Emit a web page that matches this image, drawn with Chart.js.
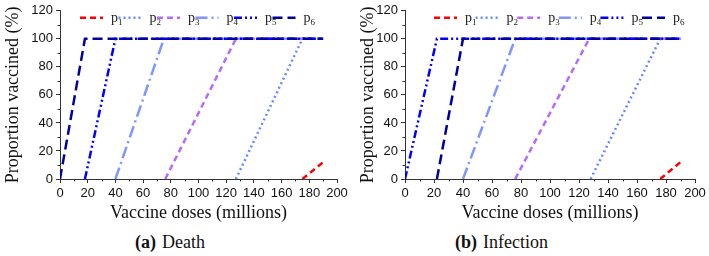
<!DOCTYPE html>
<html>
<head>
<meta charset="utf-8">
<script src="https://cdn.jsdelivr.net/npm/chart.js@4.4.1/dist/chart.umd.min.js"></script>
<style>
  html, body { margin: 0; padding: 0; background: #fff; }
  body { width: 709px; height: 256px; position: relative; overflow: hidden; }
  .panel { position: absolute; top: 0; height: 224px; }
  #panelA { left: 0; width: 355px; }
  #panelB { left: 355px; width: 354px; }
  .caption { position: absolute; top: 232px; font-family: "Liberation Serif", "Times New Roman", serif; font-size: 18px; color: #111; white-space: nowrap; }
  .caption b { margin-right: 6px; }
  #capA { left: 135px; }
  #capB { left: 455px; }
</style>
</head>
<body>
<div class="panel" id="panelA"><canvas id="chartA"></canvas></div>
<div class="panel" id="panelB"><canvas id="chartB"></canvas></div>
<div class="caption" id="capA"><b>(a)</b>Death</div>
<div class="caption" id="capB"><b>(b)</b>Infection</div>
<script>
// series names (drawn as p with a subscript digit)
const seriesLabels = ['p1', 'p2', 'p3', 'p4', 'p5', 'p6'];

// (a) Death: vertices of each curve, doses (millions) and proportion vaccined (%)
const deathDoses = [[175, 190], [127, 175, 190], [76, 127, 190], [40, 75, 190], [18, 40, 190], [0, 18, 190]];
const deathProps = [[0, 12], [0, 100, 100], [0, 100, 100], [0, 100, 100], [0, 100, 100], [0, 100, 100]];

// (b) Infection
const infectionDoses = [[176, 190], [128, 176, 190], [76, 127, 190], [40, 76, 190], [0, 22, 190], [22, 40, 190]];
const infectionProps = [[0, 12], [0, 100, 100], [0, 100, 100], [0, 100, 100], [0, 100, 100], [0, 100, 100]];

// styles
const seriesColors = ['#ff0000', '#6a88ff', '#b36bff', '#7f96ff', '#0000ff', '#0000a0'];
const seriesDash = [[6, 4], [2, 3], [6, 4], [12, 4, 2, 4], [8, 3, 2, 3, 2, 3], [10, 5]];
const seriesOrder = [5, 4, 3, 2, 1, 0];

const axisColor = '#333';
const serif = '"Liberation Serif", "Times New Roman", serif';

// small minor ticks halfway between the labelled ones
const minorTicks = {
    id: 'minorTicks',
    afterDraw(chart) {
        const ctx = chart.ctx;
        const x = chart.scales.x;
        const y = chart.scales.y;
        ctx.save();
        ctx.strokeStyle = axisColor;
        ctx.lineWidth = 1;
        ctx.beginPath();
        for (let v = 10; v < 200; v += 20) {
            const px = Math.round(x.getPixelForValue(v)) + 0.5;
            ctx.moveTo(px, x.top);
            ctx.lineTo(px, x.top + 2.5);
        }
        for (let v = 10; v < 120; v += 20) {
            const py = Math.round(y.getPixelForValue(v)) + 0.5;
            ctx.moveTo(y.right, py);
            ctx.lineTo(y.right - 2.5, py);
        }
        ctx.stroke();
        ctx.restore();
    }
};

// one-row legend inside the plot, dashed line samples + p with subscript
const lineLegend = {
    id: 'lineLegend',
    afterDatasetsDraw(chart, args, opts) {
        const ctx = chart.ctx;
        const area = chart.chartArea;
        const y = area.top + 7;
        ctx.save();
        chart.data.datasets.forEach((ds, i) => {
            const textX = area.left + opts.start + i * opts.step;
            ctx.strokeStyle = ds.borderColor;
            ctx.lineWidth = ds.borderWidth;
            ctx.setLineDash(ds.borderDash || []);
            ctx.beginPath();
            ctx.moveTo(textX - 31, y);
            ctx.lineTo(textX - 8, y);
            ctx.stroke();
            ctx.setLineDash([]);
            ctx.fillStyle = '#222';
            ctx.textBaseline = 'alphabetic';
            ctx.textAlign = 'left';
            ctx.font = '14px ' + serif;
            ctx.fillText(ds.label.charAt(0), textX, y + 4);
            const w = ctx.measureText(ds.label.charAt(0)).width;
            ctx.font = '9px ' + serif;
            ctx.fillText(ds.label.slice(1), textX + w, y + 7);
        });
        ctx.restore();
    }
};

function buildDatasets(doses, props) {
    return seriesLabels.map((label, i) => ({
        label: label,
        data: doses[i].map((d, j) => ({ x: d, y: props[i][j] })),
        borderColor: seriesColors[i],
        backgroundColor: seriesColors[i],
        borderDash: seriesDash[i],
        borderWidth: 2.5,
        pointRadius: 0,
        tension: 0,
        fill: false,
        order: seriesOrder[i]
    }));
}

function makeChart(id, doses, props, yAxisWidth, rightPad, legendStart, legendStep) {
    const ctx = document.getElementById(id).getContext('2d');
    return new Chart(ctx, {
        type: 'line',
        data: { datasets: buildDatasets(doses, props) },
        options: {
            responsive: true,
            maintainAspectRatio: false,
            animation: false,
            layout: { padding: { top: 8, right: rightPad, left: 0, bottom: 0 } },
            plugins: {
                legend: { display: false },
                tooltip: { enabled: false },
                lineLegend: { start: legendStart, step: legendStep }
            },
            scales: {
                x: {
                    type: 'linear',
                    min: 0,
                    max: 200,
                    ticks: { stepSize: 20, color: '#111', padding: 3, maxRotation: 0,
                             font: { family: '"Liberation Sans", Arial, sans-serif', size: 13 } },
                    grid: { drawOnChartArea: false, drawTicks: true, tickLength: 4, color: axisColor },
                    border: { display: true, color: axisColor, width: 1 },
                    title: { display: true, text: 'Vaccine doses (millions)', color: '#111',
                             padding: { top: 0, bottom: 0 },
                             font: { family: serif, size: 18, lineHeight: 1.2 } },
                    afterFit: scale => { scale.height = 45; }
                },
                y: {
                    min: 0,
                    max: 120,
                    ticks: { stepSize: 20, color: '#111', padding: 3,
                             font: { family: '"Liberation Sans", Arial, sans-serif', size: 13 } },
                    grid: { drawOnChartArea: false, drawTicks: true, tickLength: 4, color: axisColor },
                    border: { display: true, color: axisColor, width: 1 },
                    title: { display: true, text: 'Proportion vaccined (%)', color: '#111',
                             padding: { top: 2, bottom: 0 },
                             font: { family: serif, size: 18, lineHeight: 1.2 } },
                    afterFit: scale => { scale.width = yAxisWidth; }
                }
            }
        },
        plugins: [minorTicks, lineLegend]
    });
}

makeChart('chartA', deathDoses, deathProps, 60, 18, 51, 38.5);
makeChart('chartB', infectionDoses, infectionProps, 50, 14, 60, 41.6);
</script>
</body>
</html>
